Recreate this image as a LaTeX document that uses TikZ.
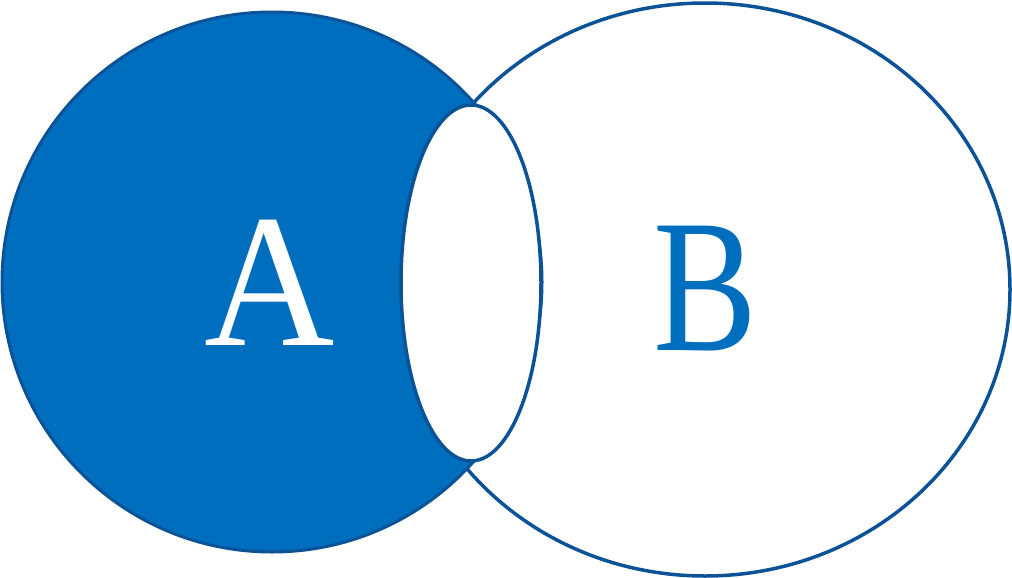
\documentclass[tikz,border=0pt]{standalone}
\usepackage{fontspec}
\setmainfont{Liberation Serif}
\usetikzlibrary{shapes.geometric}
\definecolor{fillblue}{RGB}{0,110,190}
\definecolor{edgeblue}{RGB}{12,82,150}
\begin{document}
\begin{tikzpicture}[x=1pt,y=-1pt,
  setshape/.style={ellipse,inner sep=0pt,draw=edgeblue,line width=3.5pt},
  letter/.style={anchor=base,inner sep=0pt,font=\fontsize{190}{190}\selectfont}]
\useasboundingbox (0,0) rectangle (1012,578);
\node[setshape,fill=white,minimum width=610pt,minimum height=573pt] (B) at (705,289.5) {};
\node[setshape,fill=fillblue,line width=3pt,minimum width=540pt,minimum height=540pt] (A) at (272,282) {};
\node[setshape,fill=white,minimum width=140pt,minimum height=356pt] (AB) at (471,283) {};
\node[letter,text=white] (la) at (270,345) {\scalebox{0.95}[1]{A}};
\node[letter,text=fillblue] (lb) at (705,350) {\scalebox{0.82}[1]{B}};
\end{tikzpicture}
\end{document}
